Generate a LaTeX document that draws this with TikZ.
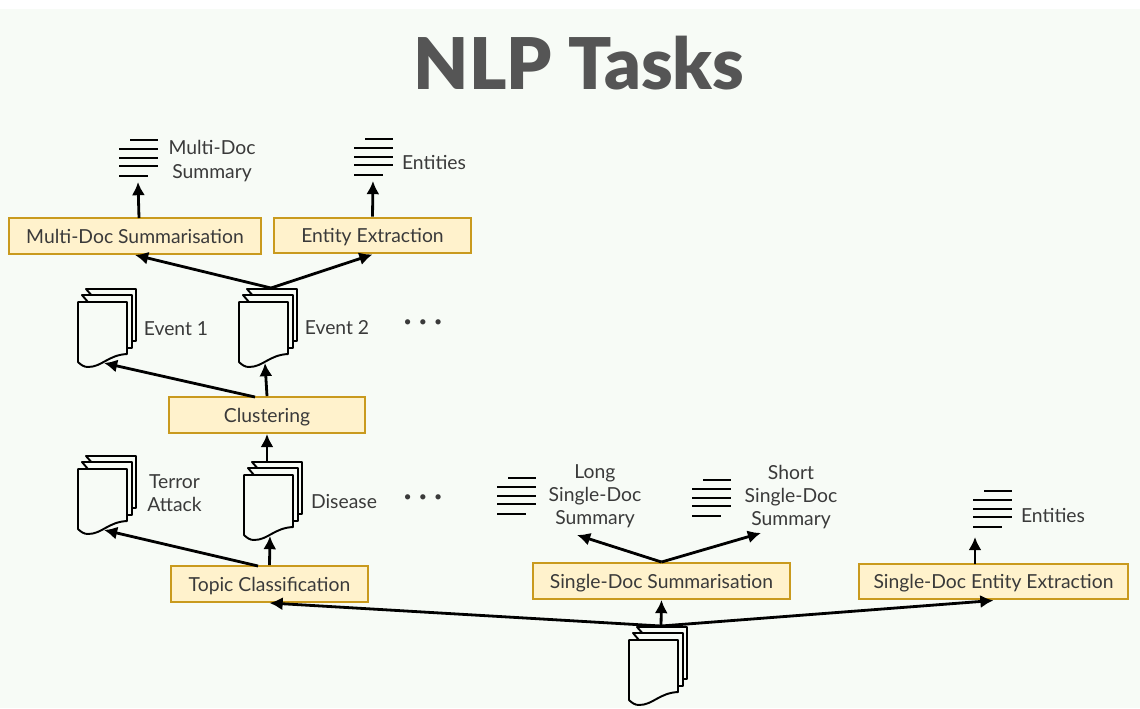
\documentclass[tikz,border=0pt]{standalone}
\usepackage{fontspec}
\setmainfont[BoldFont={Lato Black}]{Lato}
\usetikzlibrary{arrows.meta}

\definecolor{pagebg}{HTML}{F7FBF6}
\definecolor{boxfill}{HTML}{FFF2CC}
\definecolor{boxline}{HTML}{C99A1E}
\definecolor{labeltext}{HTML}{3A3A3A}
\definecolor{titletext}{HTML}{555555}

\tikzset{
    taskbox/.style={draw=boxline,fill=boxfill,line width=1.2pt,minimum height=1.0pt*20.4,inner sep=0pt,
        text height=9.5pt,text depth=1.2pt,text=labeltext,font=\fontsize{11}{13}\selectfont},
    doclabel/.style={text=labeltext,align=center,inner sep=0pt,font=\fontsize{11}{13.2}\selectfont},
    flow/.style={-{Latex[length=7.5pt,width=7.5pt]},line width=1.6pt,black},
    page/.style={draw=black,fill=pagebg,line width=1.1pt,line join=round},
    textline/.style={draw=black,line width=1.1pt}
}

% stack of three pages, x and y give the top left corner of the front page
\newcommand{\docstack}[3]{
    \draw[page] (#2+8,#3-13) -- (#2+58,#3-13) -- (#2+58,#3+39) -- (#2+54,#3+39) -- cycle;
    \draw[page] (#2+4,#3-7) -- (#2+54,#3-7) -- (#2+54,#3+46) -- (#2+49,#3+46) -- cycle;
    \draw[page] (#2,#3) -- (#2+49,#3) -- (#2+49,#3+52) .. controls (#2+30,#3+53) and (#2+24,#3+65) .. (#2+10,#3+65)
        .. controls (#2+6,#3+65) and (#2+3,#3+63) .. (#2,#3+60) -- cycle;
    \node[minimum width=1.0pt*33,minimum height=1.0pt*44,inner sep=0pt] (#1) at (#2+29,#3+25.5) {};
    \coordinate (#1 in) at (#2+26,#3+61);
    \coordinate (#1 out) at (#2+32,#3-14);
}

% five short lines of text, x is the left end and y the top line
\newcommand{\textlines}[2]{
    \draw[textline] (#1+11,#2) -- (#1+39,#2);
    \draw[textline] (#1,#2+9) -- (#1+39,#2+9);
    \draw[textline] (#1,#2+18) -- (#1+39,#2+18);
    \draw[textline] (#1,#2+26) -- (#1+39,#2+26);
    \draw[textline] (#1,#2+36) -- (#1+29,#2+36);
}

\begin{document}
\begin{tikzpicture}[x=0.02cm,y=-0.02cm]
    % Background
    \path[use as bounding box] (0,0) rectangle (1140,708);
    \fill[white] (0,0) rectangle (1140,708);
    \fill[pagebg] (0,9) rectangle (1140,708);

    % Title
    \node[text=titletext,inner sep=0pt,font=\fontsize{40.6}{46}\selectfont\bfseries] (title) at (579,63) {NLP Tasks};

    % Tasks
    \node[taskbox,minimum width=1.0pt*143] (multi) at (135,236) {Multi-Doc Summarisation};
    \node[taskbox,minimum width=1.0pt*112] (entity) at (372.5,235.5) {Entity Extraction};
    \node[taskbox,minimum width=1.0pt*112] (clustering) at (267,415) {Clustering};
    \node[taskbox,minimum width=1.0pt*112] (topic) at (269.5,584) {Topic Classification};
    \node[taskbox,minimum width=1.0pt*146] (single) at (661.5,581) {Single-Doc Summarisation};
    \node[taskbox,minimum width=1.0pt*153] (singleent) at (993.5,581.5) {Single-Doc Entity Extraction};

    % Documents
    \docstack{event1}{78}{302}
    \docstack{event2}{239}{302}
    \docstack{terror}{78}{469}
    \docstack{disease}{244}{475}
    \docstack{docs}{629}{640}

    % Output lists
    \textlines{119}{140}
    \textlines{354}{139}
    \textlines{497}{478}
    \textlines{692}{480}
    \textlines{973}{491}

    % Labels
    \node[doclabel] (lblmulti) at (212,161) {Multi-Doc\\Summary};
    \node[doclabel] (lblentity) at (434,162.5) {Entities};
    \node[doclabel] (lblevent1) at (176,328.5) {Event 1};
    \node[doclabel] (lblevent2) at (337,328) {Event 2};
    \node[doclabel] (lblterror) at (174.5,493.5) {Terror\\Attack};
    \node[doclabel] (lbldisease) at (344,501.5) {Disease};
    \node[doclabel] (lbllong) at (595,496) {Long\\Single-Doc\\Summary};
    \node[doclabel] (lblshort) at (791,497) {Short\\Single-Doc\\Summary};
    \node[doclabel] (lblentities) at (1053,515.5) {Entities};
    \node[doclabel,font=\fontsize{8}{9}\selectfont] (dots1) at (423,323) {\textbullet\hspace{4pt}\textbullet\hspace{4pt}\textbullet};
    \node[doclabel,font=\fontsize{8}{9}\selectfont] (dots2) at (423,498) {\textbullet\hspace{4pt}\textbullet\hspace{4pt}\textbullet};

    % Free ends of the arrows
    \coordinate (multi top) at (139,218);
    \coordinate (multi list) at (138,182);
    \coordinate (entity list) at (373,181);
    \coordinate (clustering left) at (255,397);
    \coordinate (topic left) at (258,566);
    \coordinate (long end) at (577,535);
    \coordinate (short end) at (761,533);
    \coordinate (singleent top) at (975,564);
    \coordinate (singleent list) at (975,537);

    % Arrows
    \draw[flow] (multi top) -- (multi list);
    \draw[flow] (entity.north) -- (entity list);
    \draw[flow] (event2 out) -- (multi.south);
    \draw[flow] (event2 out) -- (entity.south);
    \draw[flow] (clustering left) -- (event1 in);
    \draw[flow] (clustering.north) -- (event2 in);
    \draw[flow] (disease.north -| clustering.south) -- (clustering.south);
    \draw[flow] (topic left) -- (terror in);
    \draw[flow] (topic.north) -- (disease in);
    \draw[flow] (docs out) -- (topic.south);
    \draw[flow] (docs out) -- (single.south);
    \draw[flow] (docs out) -- (singleent.south);
    \draw[flow] (single.north) -- (long end);
    \draw[flow] (single.north) -- (short end);
    \draw[flow] (singleent top) -- (singleent list);
\end{tikzpicture}
\end{document}
